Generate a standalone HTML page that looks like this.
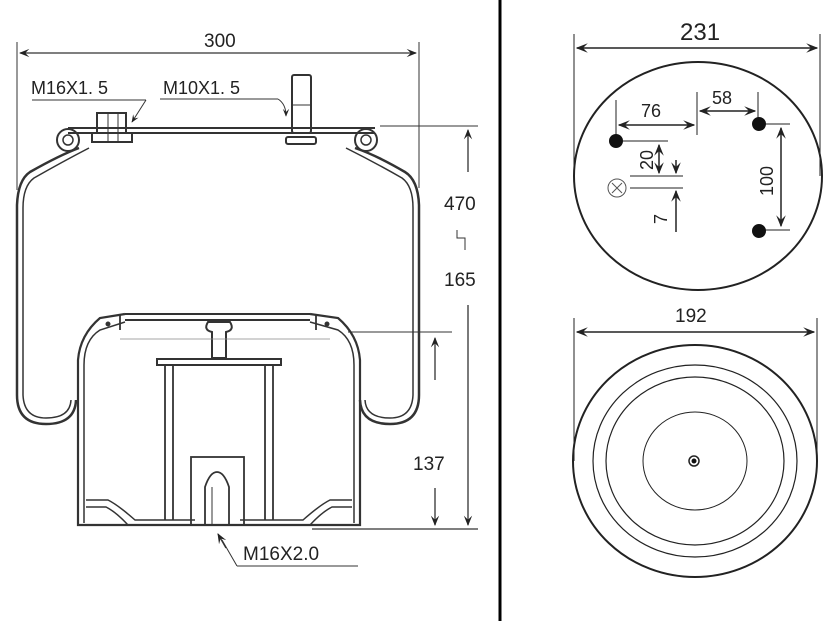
<!DOCTYPE html>
<html><head><style>
html,body{margin:0;padding:0;background:#fff;}
svg{display:block;}
text{font-family:"Liberation Sans",sans-serif;fill:#222;}
</style></head><body>
<svg width="833" height="621" viewBox="0 0 833 621" xmlns="http://www.w3.org/2000/svg">
<defs>
<marker id="a" viewBox="0 0 10 10" refX="9" refY="5" markerWidth="8" markerHeight="8" orient="auto-start-reverse"><path d="M0,1 L10,5 L0,9 L4,5 Z" fill="#222"/></marker>
</defs>
<rect width="833" height="621" fill="#fff"/>
<line x1="500" y1="0" x2="500" y2="621" stroke="#000" stroke-width="3"/>

<g stroke="#333" fill="none">
<line x1="17" y1="42" x2="17" y2="190" stroke-width="1"/>
<line x1="419" y1="42" x2="419" y2="188" stroke-width="1"/>
<line x1="20" y1="53" x2="416" y2="53" stroke-width="1.3" marker-start="url(#a)" marker-end="url(#a)"/>
<line x1="32" y1="100" x2="146" y2="100" stroke-width="1"/>
<line x1="146" y1="100" x2="132" y2="122" stroke-width="1" marker-end="url(#a)"/>
<line x1="160" y1="99" x2="278" y2="99" stroke-width="1"/>
<path d="M278,99 Q286,104 286,116" stroke-width="1" marker-end="url(#a)"/>
<path d="M68,128 L375,128 M68,133 L375,133" stroke-width="2"/>
<circle cx="68" cy="140" r="11" stroke-width="2"/>
<circle cx="68" cy="140" r="5" stroke-width="1.5"/>
<circle cx="366" cy="140" r="11" stroke-width="2"/>
<circle cx="366" cy="140" r="5" stroke-width="1.5"/>
<rect x="97" y="113" width="29" height="20" stroke-width="2"/>
<rect x="92" y="133" width="40" height="9" stroke-width="2"/>
<line x1="108" y1="113" x2="108" y2="142" stroke-width="1"/>
<line x1="118" y1="113" x2="118" y2="142" stroke-width="1"/>
<rect x="292" y="75" width="19" height="58" rx="2" stroke-width="2"/>
<line x1="292" y1="105" x2="311" y2="105" stroke-width="1"/>
<rect x="286" y="137" width="30" height="7" rx="2" stroke-width="2"/>
<!-- bellows -->
<path d="M79,148 Q60,155 30,172 Q18,180 17,205 L17,395 Q17,424 46,424 Q75,424 76,400" stroke-width="2.5"/>
<path d="M89,148 Q62,162 34,178 Q23,186 23,208 L23,395 Q24,418 46,418 Q70,418 71,400" stroke-width="1.5"/>
<path d="M355,148 Q376,155 405,172 Q418,180 419,205 L419,395 Q419,424 390,424 Q361,424 360,400" stroke-width="2.5"/>
<path d="M346,148 Q374,162 402,178 Q413,186 413,208 L413,395 Q412,418 390,418 Q366,418 365,400" stroke-width="1.5"/>
<!-- piston -->
<path d="M125,314 L310,314 M125,320 L310,320" stroke-width="2"/>
<path d="M125,314 L100,318 Q80,335 78,360 L78,525 L360,525 L360,360 Q358,335 338,318 L310,314" stroke-width="2.2"/>
<path d="M125,322 L100,330 Q84,340 84,365 L84,523 M310,322 L338,330 Q354,340 354,365 L354,523" stroke-width="1.5"/>
<path d="M120,314 L120,330 M316,314 L316,330" stroke-width="1.8"/>
<circle cx="108" cy="324" r="2" fill="#333"/>
<circle cx="327" cy="324" r="2" fill="#333"/>
<path d="M86,500 L108,500 Q118,505 135,520 L195,520 M86,507 L106,507 Q116,512 128,525 M352,500 L330,500 Q320,505 303,520 L240,520 M352,507 L332,507 Q322,512 310,525" stroke-width="1.5"/>
<path d="M208,322 Q203,330 212,332 L212,358 L226,358 L226,332 Q235,330 230,322 Z" stroke-width="2"/>
<rect x="157" y="359" width="124" height="6" stroke-width="2"/>
<path d="M165,365 L165,520 M173,365 L173,520 M265,365 L265,520 M273,365 L273,520" stroke-width="1.8"/>
<rect x="191" y="457" width="53" height="68" stroke-width="1.8"/>
<path d="M205,525 L205,487 Q210,472 217,472 Q224,472 229,487 L229,525" stroke-width="1.8"/>
<line x1="212" y1="487" x2="212" y2="525" stroke-width="1"/>
<line x1="380" y1="126" x2="478" y2="126" stroke-width="1"/>
<line x1="348" y1="332" x2="452" y2="332" stroke-width="1"/>
<line x1="120" y1="339" x2="330" y2="339" stroke-width="0.8" stroke="#888"/>
<line x1="312" y1="529" x2="478" y2="529" stroke-width="1.3"/>
<line x1="468" y1="172" x2="468" y2="130" stroke-width="1.3" marker-end="url(#a)"/>
<line x1="468" y1="305" x2="468" y2="525" stroke-width="1.3" marker-end="url(#a)"/>
<line x1="435" y1="380" x2="435" y2="338" stroke-width="1.3" marker-end="url(#a)"/>
<line x1="435" y1="488" x2="435" y2="525" stroke-width="1.3" marker-end="url(#a)"/>
<path d="M457,230 L457,238 L465,238 L465,250" stroke-width="1"/>
<path d="M237,566 L358,566 M237,566 L222,540" stroke-width="1"/>
<line x1="226" y1="548" x2="218" y2="534" stroke-width="1.3" marker-end="url(#a)"/>
</g>
<text x="204" y="47" font-size="19">300</text>
<text x="31" y="94" font-size="18">M16X1. 5</text>
<text x="163" y="94" font-size="18">M10X1. 5</text>
<text x="444" y="210" font-size="19">470</text>
<text x="444" y="286" font-size="19">165</text>
<text x="413" y="470" font-size="19">137</text>
<text x="243" y="560" font-size="19">M16X2.0</text>

<g stroke="#222" fill="none">
<line x1="574" y1="34" x2="574" y2="176" stroke-width="1"/>
<line x1="820" y1="34" x2="820" y2="176" stroke-width="1"/>
<line x1="577" y1="48" x2="817" y2="48" stroke-width="1.5" marker-start="url(#a)" marker-end="url(#a)"/>
<ellipse cx="698" cy="176" rx="124" ry="114" stroke-width="2"/>
<line x1="616" y1="100" x2="616" y2="138" stroke-width="1"/>
<line x1="697" y1="92" x2="697" y2="135" stroke-width="1"/>
<line x1="758" y1="92" x2="758" y2="120" stroke-width="1"/>
<line x1="619" y1="125" x2="694" y2="125" stroke-width="1.5" marker-start="url(#a)" marker-end="url(#a)"/>
<line x1="700" y1="111" x2="755" y2="111" stroke-width="1.5" marker-start="url(#a)" marker-end="url(#a)"/>
<line x1="622" y1="141" x2="668" y2="141" stroke-width="1"/>
<line x1="630" y1="176" x2="683" y2="176" stroke-width="1"/>
<line x1="630" y1="188" x2="683" y2="188" stroke-width="1"/>
<line x1="659" y1="145" x2="659" y2="173" stroke-width="1.5" marker-start="url(#a)" marker-end="url(#a)"/>
<line x1="676" y1="160" x2="676" y2="173" stroke-width="1.5" marker-end="url(#a)"/>
<line x1="676" y1="232" x2="676" y2="191" stroke-width="1.5" marker-end="url(#a)"/>
<line x1="765" y1="124" x2="790" y2="124" stroke-width="1"/>
<line x1="765" y1="230" x2="790" y2="230" stroke-width="1"/>
<line x1="781" y1="128" x2="781" y2="226" stroke-width="1.5" marker-start="url(#a)" marker-end="url(#a)"/>
<circle cx="617" cy="188" r="9" stroke="#555" stroke-width="1"/>
<path d="M612,183 L622,193 M622,183 L612,193" stroke="#555" stroke-width="1"/>
</g>
<circle cx="616" cy="141" r="7" fill="#111"/>
<circle cx="759" cy="124" r="7" fill="#111"/>
<circle cx="759" cy="231" r="7" fill="#111"/>
<text x="680" y="40" font-size="24">231</text>
<text x="641" y="117" font-size="18">76</text>
<text x="712" y="104" font-size="18">58</text>
<text transform="translate(653,170) rotate(-90)" font-size="18">20</text>
<text transform="translate(667,224) rotate(-90)" font-size="18">7</text>
<text transform="translate(773,196) rotate(-90)" font-size="18">100</text>

<g stroke="#222" fill="none">
<line x1="574" y1="318" x2="574" y2="461" stroke-width="1"/>
<line x1="817" y1="318" x2="817" y2="461" stroke-width="1"/>
<line x1="577" y1="332" x2="814" y2="332" stroke-width="1.5" marker-start="url(#a)" marker-end="url(#a)"/>
<ellipse cx="695" cy="461" rx="122" ry="116" stroke-width="2"/>
<ellipse cx="695" cy="461" rx="102" ry="96" stroke-width="1.2"/>
<ellipse cx="695" cy="461" rx="89" ry="84" stroke-width="1.2"/>
<ellipse cx="695" cy="461" rx="52" ry="49" stroke-width="1"/>
<circle cx="694" cy="461" r="5" stroke-width="1.5"/>
</g>
<circle cx="694" cy="461" r="2.5" fill="#111"/>
<text x="675" y="322" font-size="19">192</text>
</svg>
</body></html>
